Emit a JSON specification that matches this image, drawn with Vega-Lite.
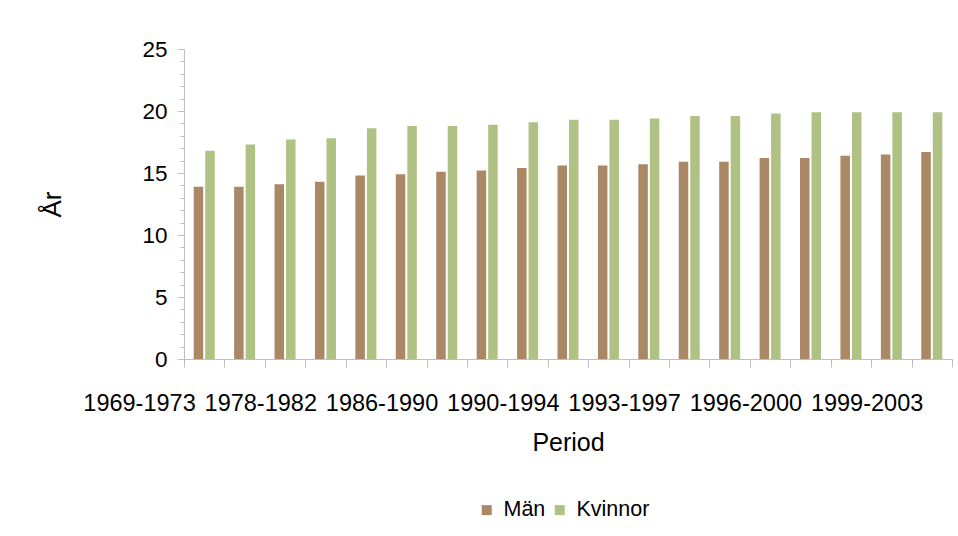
{
  "$schema": "https://vega.github.io/schema/vega-lite/v6.json",
  "width": 768,
  "height": 310,
  "autosize": {"type": "none"},
  "padding": {"left": 184, "top": 49, "right": 6, "bottom": 177},
  "background": "white",
  "data": {
    "values": [
      {"period": "1969-1973", "kon": "Män", "ar": 13.9}, {"period": "1969-1973", "kon": "Kvinnor", "ar": 16.8},
      {"period": "1972-1976", "kon": "Män", "ar": 13.9}, {"period": "1972-1976", "kon": "Kvinnor", "ar": 17.3},
      {"period": "1975-1979", "kon": "Män", "ar": 14.1}, {"period": "1975-1979", "kon": "Kvinnor", "ar": 17.7},
      {"period": "1978-1982", "kon": "Män", "ar": 14.3}, {"period": "1978-1982", "kon": "Kvinnor", "ar": 17.8},
      {"period": "1981-1985", "kon": "Män", "ar": 14.8}, {"period": "1981-1985", "kon": "Kvinnor", "ar": 18.6},
      {"period": "1984-1988", "kon": "Män", "ar": 14.9}, {"period": "1984-1988", "kon": "Kvinnor", "ar": 18.8},
      {"period": "1986-1990", "kon": "Män", "ar": 15.1}, {"period": "1986-1990", "kon": "Kvinnor", "ar": 18.8},
      {"period": "1987-1991", "kon": "Män", "ar": 15.2}, {"period": "1987-1991", "kon": "Kvinnor", "ar": 18.9},
      {"period": "1988-1992", "kon": "Män", "ar": 15.4}, {"period": "1988-1992", "kon": "Kvinnor", "ar": 19.1},
      {"period": "1990-1994", "kon": "Män", "ar": 15.6}, {"period": "1990-1994", "kon": "Kvinnor", "ar": 19.3},
      {"period": "1991-1995", "kon": "Män", "ar": 15.6}, {"period": "1991-1995", "kon": "Kvinnor", "ar": 19.3},
      {"period": "1992-1996", "kon": "Män", "ar": 15.7}, {"period": "1992-1996", "kon": "Kvinnor", "ar": 19.4},
      {"period": "1993-1997", "kon": "Män", "ar": 15.9}, {"period": "1993-1997", "kon": "Kvinnor", "ar": 19.6},
      {"period": "1994-1998", "kon": "Män", "ar": 15.9}, {"period": "1994-1998", "kon": "Kvinnor", "ar": 19.6},
      {"period": "1995-1999", "kon": "Män", "ar": 16.2}, {"period": "1995-1999", "kon": "Kvinnor", "ar": 19.8},
      {"period": "1996-2000", "kon": "Män", "ar": 16.2}, {"period": "1996-2000", "kon": "Kvinnor", "ar": 19.9},
      {"period": "1997-2001", "kon": "Män", "ar": 16.4}, {"period": "1997-2001", "kon": "Kvinnor", "ar": 19.9},
      {"period": "1998-2002", "kon": "Män", "ar": 16.5}, {"period": "1998-2002", "kon": "Kvinnor", "ar": 19.9},
      {"period": "1999-2003", "kon": "Män", "ar": 16.7}, {"period": "1999-2003", "kon": "Kvinnor", "ar": 19.9}
    ]
  },
  "mark": {"type": "bar"},
  "encoding": {
    "x": {
      "field": "period",
      "type": "nominal",
      "sort": null,
      "scale": {"paddingInner": 0, "paddingOuter": 0},
      "axis": {
        "title": "Period",
        "labelAngle": 0,
        "labelExpr": "indexof(['1969-1973','1978-1982','1986-1990','1990-1994','1993-1997','1996-2000','1999-2003'], datum.label) >= 0 ? datum.label : ''",
        "labelAlign": "right",
        "labelOffset": -9,
        "labelFontSize": 23.5,
        "labelPadding": 24,
        "labelOverlap": false,
        "labelColor": "black",
        "tickBand": "extent",
        "tickSize": 8,
        "tickColor": "#BFBFBF",
        "domainColor": "#BFBFBF",
        "grid": false,
        "titleFontSize": 25,
        "titleFontWeight": "normal",
        "titlePadding": 16,
        "titleColor": "black"
      }
    },
    "xOffset": {
      "field": "kon",
      "type": "nominal",
      "sort": ["Män", "Kvinnor"],
      "scale": {"paddingInner": 0.174, "paddingOuter": 0.843}
    },
    "y": {
      "field": "ar",
      "type": "quantitative",
      "scale": {"domain": [0, 25], "nice": false},
      "axis": {
        "title": "År",
        "values": [0,1,2,3,4,5,6,7,8,9,10,11,12,13,14,15,16,17,18,19,20,21,22,23,24,25],
        "labelExpr": "datum.value % 5 === 0 ? datum.label : ''",
        "labelOverlap": false,
        "tickSize": {"condition": {"test": "datum.value % 5 === 0", "value": 7}, "value": 4},
        "labelPadding": 10,
        "labelFontSize": 22.5,
        "labelColor": "black",
        "tickColor": "#BFBFBF",
        "domainColor": "#BFBFBF",
        "grid": false,
        "titleFontSize": 26,
        "titleFontWeight": "normal",
        "titleColor": "black",
        "titlePadding": 76
      }
    },
    "color": {
      "field": "kon",
      "type": "nominal",
      "sort": ["Män", "Kvinnor"],
      "scale": {"domain": ["Män", "Kvinnor"], "range": ["#AA8866", "#B0C283"]},
      "legend": {
        "orient": "none",
        "legendX": 292,
        "legendY": 450,
        "direction": "horizontal",
        "title": null,
        "symbolType": "square",
        "symbolSize": 100,
        "symbolStrokeWidth": 0,
        "labelFontSize": 21.5,
        "labelColor": "black",
        "labelOffset": 6,
        "columnPadding": 3,
        "padding": 0
      }
    }
  },
  "config": {
    "view": {"stroke": null},
    "font": "Liberation Sans"
  }
}
